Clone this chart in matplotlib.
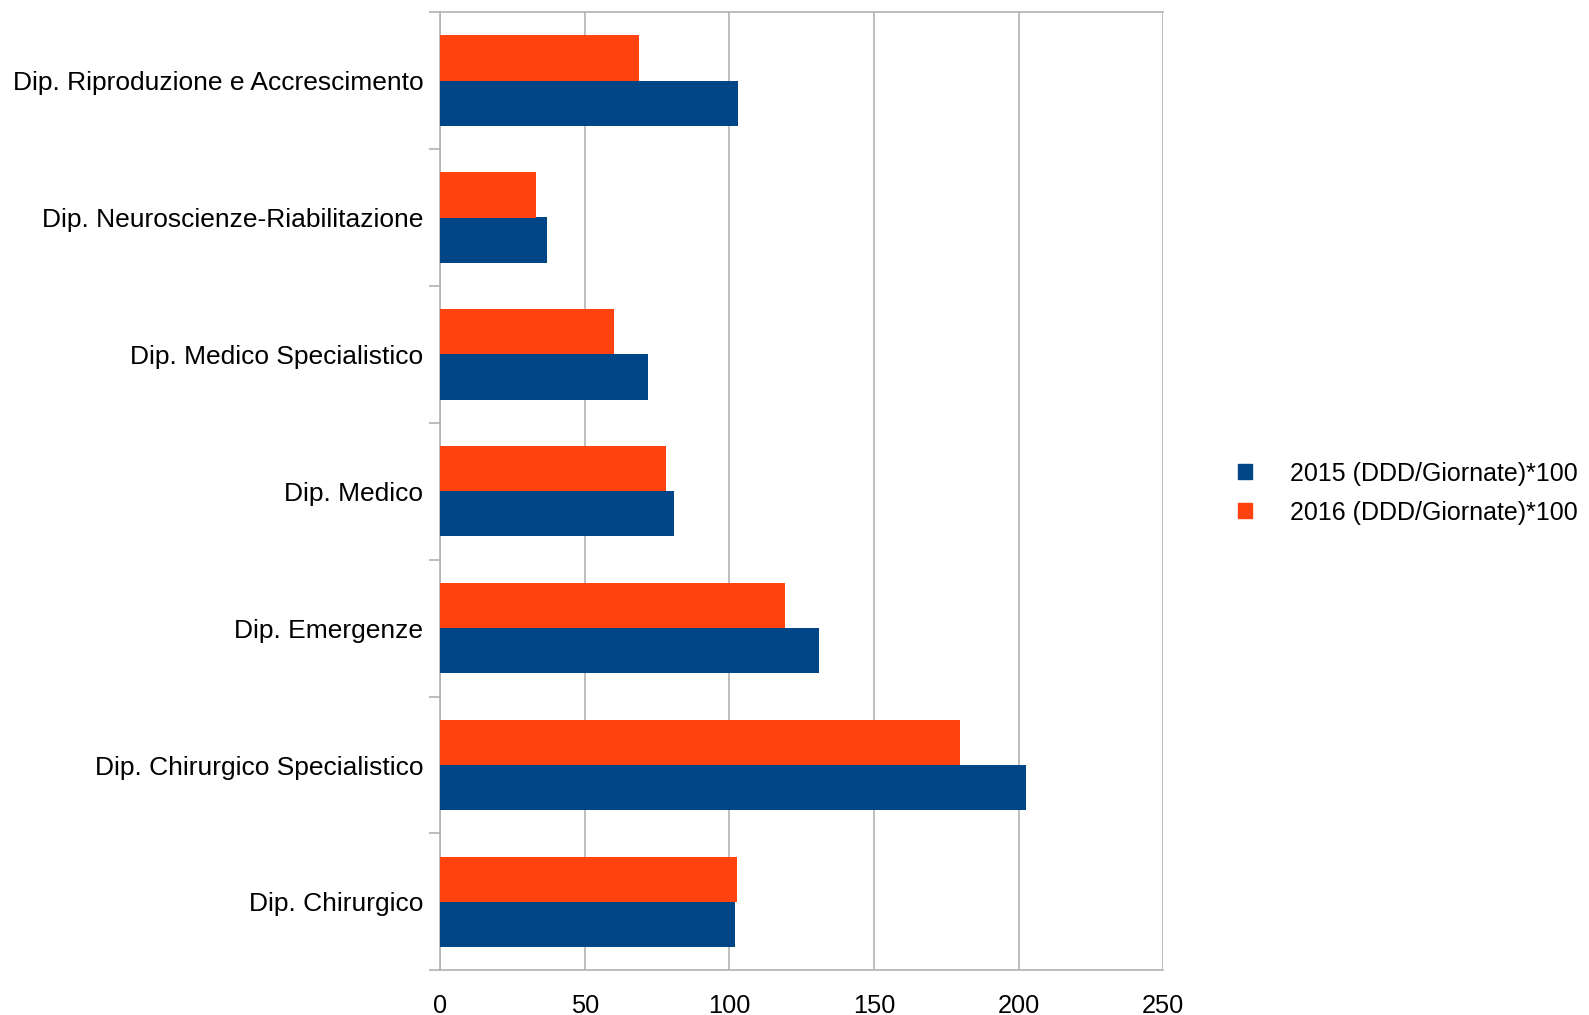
import numpy as np
from matplotlib import pyplot as plt
from matplotlib.patches import Patch

plt.rcParams['font.family'] = ['Liberation Sans', 'DejaVu Sans']

# categories listed bottom to top
categories = ["Dip. Chirurgico", "Dip. Chirurgico Specialistico", "Dip. Emergenze",
              "Dip. Medico", "Dip. Medico Specialistico",
              "Dip. Neuroscienze-Riabilitazione", "Dip. Riproduzione e Accrescimento"]
values_2015 = [102.1, 202.6, 131.1, 80.7, 71.7, 36.8, 103.1]
values_2016 = [102.8, 179.8, 119.4, 78.0, 60.1, 33.3, 68.7]
series_names = ["2015 (DDD/Giornate)*100", "2016 (DDD/Giornate)*100"]
xticks = [0, 50, 100, 150, 200, 250]

blue = "#004586"
orange = "#ff420e"
grid_c = "#b3b3b3"

fig = plt.figure(figsize=(15.89, 10.15), dpi=100)
ax = fig.add_axes([0.277, 0.044, 0.455, 0.944])

y = np.arange(len(categories))
h = 0.33
ax.barh(y - h / 2, values_2015, height=h, color=blue, zorder=3)
ax.barh(y + h / 2, values_2016, height=h, color=orange, zorder=3)

ax.set_xlim(0, 250)
ax.set_ylim(-0.5, len(categories) - 0.5)
ax.set_xticks(xticks)
ax.set_xticklabels([str(t) for t in xticks], fontsize=18.3)
ax.set_yticks(y)
ax.set_yticklabels(categories, fontsize=19)
ax.tick_params(axis='y', length=0, pad=12)
ax.tick_params(axis='x', length=0, pad=17)

# category boundary ticks on the y axis
ax.set_yticks(np.arange(-0.5, len(categories)), minor=True)
ax.tick_params(axis='y', which='minor', length=8, color=grid_c, width=1.2)
ax.set_xticks(xticks, minor=True)
ax.tick_params(axis='x', which='minor', length=8, color=grid_c, width=1.2)

ax.grid(axis='x', color=grid_c, linewidth=1.2, zorder=0)
for s in ['left', 'bottom', 'top']:
    ax.spines[s].set_color(grid_c)
    ax.spines[s].set_linewidth(1.2)
ax.spines['right'].set_visible(False)

handles = [Patch(color=blue), Patch(color=orange)]
fig.legend(handles, series_names, loc='center left', bbox_to_anchor=(0.768, 0.514),
           frameon=False, fontsize=18, handlelength=0.55, handleheight=0.55,
           handletextpad=1.55, labelspacing=0.6, borderpad=0.2)

fig.savefig("out.png", dpi=100)
